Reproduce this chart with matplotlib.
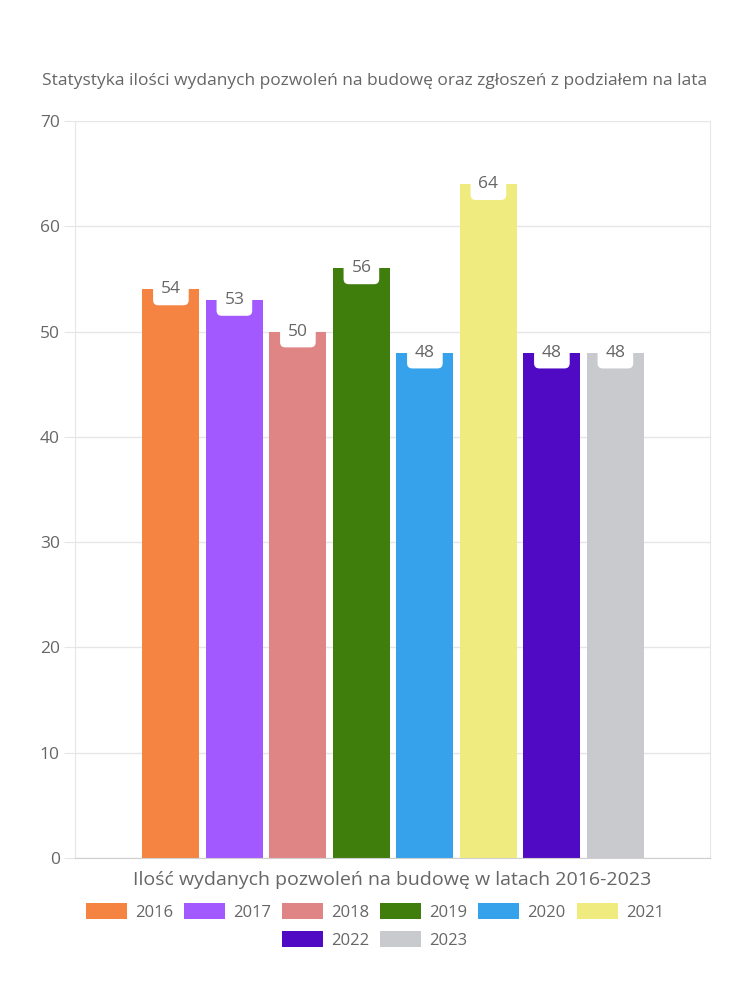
import matplotlib
matplotlib.use("Agg")
import matplotlib.pyplot as plt
from matplotlib.patches import Patch
import numpy as np

years = ["2016", "2017", "2018", "2019", "2020", "2021", "2022", "2023"]
values = [54, 53, 50, 56, 48, 64, 48, 48]
colors = ["#F58442", "#A259FF", "#E08585", "#3F7D0C", "#36A2EB", "#F0EB7E", "#510AC4", "#C9CACE"]
yticks = [0, 10, 20, 30, 40, 50, 60, 70]

title = "Statystyka ilości wydanych pozwoleń na budowę oraz zgłoszeń z podziałem na lata"
xlabel = "Ilość wydanych pozwoleń na budowę w latach 2016-2023"

plt.rcParams["font.family"] = ["Open Sans", "DejaVu Sans"]
text_col = "#666666"
grid_col = "#e6e6e6"

fig = plt.figure(figsize=(7.5, 10), dpi=100)
ax = fig.add_axes([75 / 750, 1 - 858 / 1000, 635 / 750, 737 / 1000])

x = np.arange(len(years))
ax.bar(x, values, width=0.9, color=colors, zorder=2)
ax.set_xlim(-1.51, 8.49)
ax.set_ylim(0, 70)
ax.set_yticks(yticks)
ax.set_xticks([])
ax.tick_params(axis="y", colors=grid_col, labelcolor=text_col, labelsize=12.5, length=8, pad=3)
ax.yaxis.grid(True, color=grid_col, linewidth=1, zorder=0)
for s in ["left", "right", "top"]:
    ax.spines[s].set_color(grid_col)
ax.spines["top"].set_visible(False)
ax.spines["bottom"].set_color("#cfcfcf")

# white rounded value tags hanging from the top of each bar
for xi, v in zip(x, values):
    ax.annotate(str(v), (xi, v), xytext=(0, 0), textcoords="offset points",
                ha="center", va="center", fontsize=12.5, color=text_col, zorder=3,
                bbox=dict(boxstyle="round,pad=0.45,rounding_size=0.3", fc="white", ec="none"))

fig.text(375 / 750, 1 - 81 / 1000, title, ha="center", va="center", fontsize=12.5, color=text_col)
fig.text(392 / 750, 1 - 880 / 1000, xlabel, ha="center", va="center", fontsize=14, color=text_col)

handles = [Patch(facecolor=c, label=y) for c, y in zip(colors, years)]
kw = dict(frameon=False, handlelength=2.45, handleheight=1.1, handletextpad=0.5,
          columnspacing=0.65, fontsize=12, labelcolor=text_col, loc="center",
          borderaxespad=0, borderpad=0)
fig.legend(handles=handles[:6], ncol=6, bbox_to_anchor=(375 / 750, 1 - 912 / 1000), **kw)
fig.legend(handles=handles[6:], ncol=2, bbox_to_anchor=(375 / 750, 1 - 940 / 1000), **kw)

fig.savefig("out.png", dpi=100)
